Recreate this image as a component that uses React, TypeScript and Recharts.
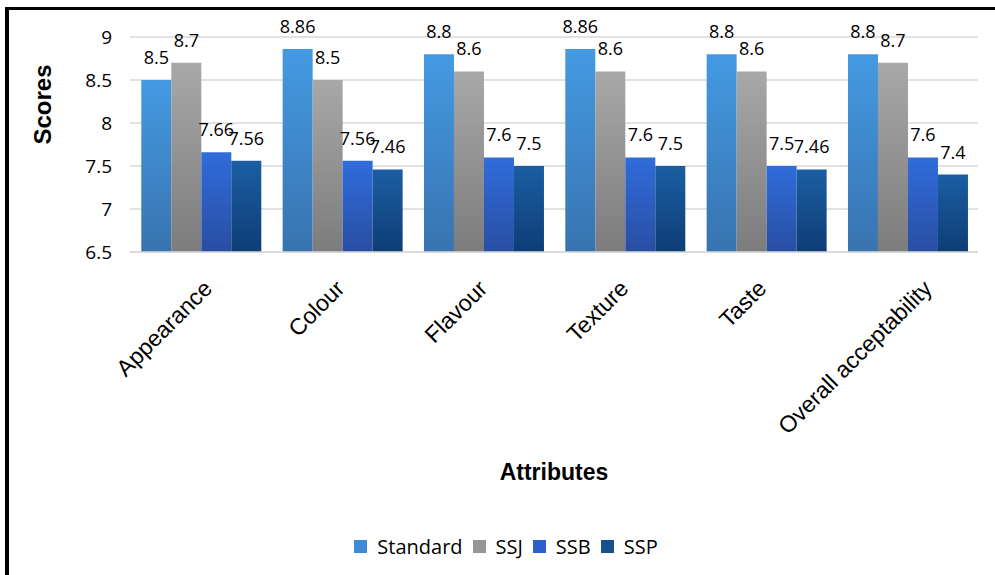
import { BarChart, Bar, XAxis, YAxis, CartesianGrid, Legend, LabelList } from "recharts";

const attributes = ["Appearance", "Colour", "Flavour", "Texture", "Taste", "Overall acceptability"];
const standard = [8.5, 8.86, 8.8, 8.86, 8.8, 8.8];
const ssj = [8.7, 8.5, 8.6, 8.6, 8.6, 8.7];
const ssb = [7.66, 7.56, 7.6, 7.6, 7.5, 7.6];
const ssp = [7.56, 7.46, 7.5, 7.5, 7.46, 7.4];
const yTicks = [6.5, 7, 7.5, 8, 8.5, 9];

const data = attributes.map((name, i) => ({
  name,
  Standard: standard[i],
  SSJ: ssj[i],
  SSB: ssb[i],
  SSP: ssp[i],
}));

const series = [
  { key: "Standard", top: "#449ae2", bottom: "#3873b0", legend: "#3f8ad6" },
  { key: "SSJ", top: "#a8a8a8", bottom: "#7c7c7c", legend: "#969696" },
  { key: "SSB", top: "#306cdb", bottom: "#284ea2", legend: "#2d5fcc" },
  { key: "SSP", top: "#1b5ea3", bottom: "#0e3d75", legend: "#17508e" },
];

const TICK_SIZE = 23;
const TICK_FONT = `${TICK_SIZE}px 'Liberation Sans', Arial, sans-serif`;

let measureCtx: CanvasRenderingContext2D | null = null;
function textWidth(s: string) {
  if (!measureCtx) {
    measureCtx = document.createElement("canvas").getContext("2d");
  }
  if (!measureCtx) return s.length * 11;
  measureCtx.font = TICK_FONT;
  return measureCtx.measureText(s).width;
}

// rotated category labels, Excel-style: longer labels reach a bit further right
function CategoryTick(props: any) {
  const { x, y, payload } = props;
  const w = textWidth(String(payload.value));
  return (
    <g transform={`translate(${x - 7 + w * 0.16},${y + 30})`}>
      <text
        x={0}
        y={0}
        textAnchor="end"
        transform="rotate(-45)"
        fill="#000"
        fontSize={TICK_SIZE}
        fontFamily="Liberation Sans, Arial, sans-serif"
      >
        {payload.value}
      </text>
    </g>
  );
}

function LegendContent() {
  return (
    <div
      style={{
        display: "flex",
        justifyContent: "center",
        alignItems: "center",
        gap: 10,
        fontSize: 20,
        fontFamily: "Open Sans, Noto Sans, sans-serif",
        color: "#000",
        paddingLeft: 34,
      }}
    >
      {series.map((s) => (
        <span key={s.key} style={{ display: "inline-flex", alignItems: "center", gap: 10 }}>
          <span style={{ display: "inline-block", width: 13, height: 13, background: s.legend }} />
          {s.key}
        </span>
      ))}
    </div>
  );
}

export default function App() {
  return (
    <div style={{ position: "absolute", left: 0, top: 0, width: 995, height: 575, background: "#fff" }}>
      <div
        style={{
          position: "absolute",
          left: 5,
          top: 7,
          right: 0,
          bottom: 0,
          borderTop: "3px solid #000",
          borderLeft: "4px solid #000",
        }}
      />
      <BarChart
        width={995}
        height={575}
        data={data}
        margin={{ top: 37, right: 17, left: 0, bottom: 0 }}
        barCategoryGap="8%"
        barGap={0}
        style={{ position: "absolute", left: 0, top: 0 }}
      >
        <defs>
          {series.map((s) => (
            <linearGradient key={s.key} id={`grad-${s.key}`} x1="0" y1="0" x2="0" y2="1">
              <stop offset="0%" stopColor={s.top} />
              <stop offset="100%" stopColor={s.bottom} />
            </linearGradient>
          ))}
        </defs>
        <CartesianGrid stroke="#d9d9d9" strokeWidth={1.5} vertical={false} />
        <XAxis
          dataKey="name"
          height={281}
          interval={0}
          tick={<CategoryTick />}
          tickLine={false}
          axisLine={{ stroke: "#d9d9d9", strokeWidth: 1.5 }}
          label={{
            value: "Attributes",
            position: "insideTop",
            offset: 212,
            fill: "#000",
            fontSize: 23,
            fontWeight: "bold",
            fontFamily: "Liberation Sans, Arial, sans-serif",
          }}
        />
        <YAxis
          width={130}
          domain={[6.5, 9]}
          ticks={yTicks}
          interval={0}
          allowDataOverflow
          axisLine={false}
          tickLine={false}
          tickMargin={12}
          tick={{ fill: "#000", fontSize: 19, fontFamily: "Open Sans, Noto Sans, sans-serif" }}
          label={{
            value: "Scores",
            angle: -90,
            position: "insideLeft",
            offset: 42,
            fill: "#000",
            fontSize: 24,
            fontWeight: "bold",
            fontFamily: "Liberation Sans, Arial, sans-serif",
          }}
        />
        <Legend verticalAlign="bottom" height={42} content={<LegendContent />} />
        {series.map((s) => (
          <Bar key={s.key} dataKey={s.key} fill={`url(#grad-${s.key})`} isAnimationActive={false}>
            <LabelList
              dataKey={s.key}
              position="top"
              offset={16}
              fill="#000"
              fontSize={18}
              fontFamily="Open Sans, Noto Sans, sans-serif"
            />
          </Bar>
        ))}
      </BarChart>
    </div>
  );
}
